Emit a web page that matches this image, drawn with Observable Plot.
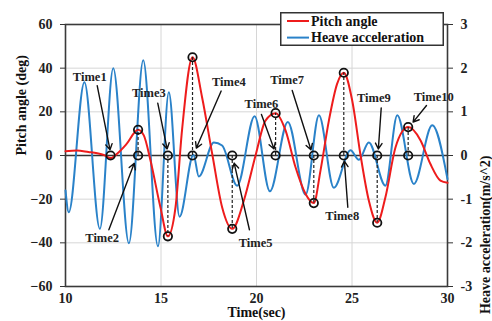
<!DOCTYPE html>
<html><head><meta charset="utf-8">
<script src="https://cdn.jsdelivr.net/npm/d3@7"></script>
<script src="https://cdn.jsdelivr.net/npm/@observablehq/plot@0.6"></script>
<style>
body{margin:0;background:#fff}
#wrap{position:relative;width:492px;height:321px;overflow:hidden}
#legend{position:absolute;left:280px;top:12px}
</style>
</head><body>
<div id="wrap"></div>
<script>
// Pitch angle (deg)
const pitchT = [10.0,10.6,11.2,11.66,12.0,12.36,12.7,13.2,13.8,14.1,14.45,14.97,15.36,15.76,16.1,16.65,17.15,17.68,18.2,18.73,19.34,19.95,20.47,21.0,21.52,22.04,22.57,23.0,23.35,23.79,24.22,24.57,25.01,25.45,25.88,26.32,26.75,27.28,27.94,28.59,29.1,29.63,30.0];
const pitchV = [2.0,2.3,1.6,1.0,0.3,-1.2,0.8,5.3,11.8,9.2,-2.3,-23.7,-37,-23.7,11.5,45,26.7,0.8,-23.7,-33.6,-20.6,0,16,19.4,11.5,-5.3,-17.6,-21.8,-6.9,16,32.8,37.9,25.2,0,-20.6,-30.8,-19.1,3.8,13,6.9,-3.8,-11.5,-12.5];
// Heave acceleration (m/s^2)
const heaveT = [10.0,10.17,10.99,11.8,12.5,13.32,14.07,14.84,15.41,15.97,16.7,16.98,17.77,18.2,18.99,19.9,20.7,21.64,22.57,23.27,24.05,24.92,25.36,25.88,26.75,27.37,28.24,29.2,30.0];
const heaveV = [-0.8,-1.3,1.68,-1.68,2.0,-2.01,2.18,-2.08,1.45,-1.4,0.02,-0.48,0.3,0.23,-0.69,0.9,-0.82,0.77,-0.9,0.92,-0.74,0.12,-0.1,0.3,-0.69,0.92,-0.65,0.69,-0.54];
// Events
const eventLabels = ["Time1","Time2","Time3","Time4","Time5","Time6","Time7","Time8","Time9","Time10"];
const eventT = [12.36,13.8,15.36,16.65,18.73,21.0,23.0,24.57,26.32,27.94];
const eventPitch = [null,11.8,-37,45,-33.6,19.4,-21.8,37.9,-30.8,13.0];
// Annotation anchors (data units)
const labelT = [11.27,11.92,14.36,18.55,19.95,20.26,21.6,24.49,26.14,29.28];
const labelP = [35.9,-37.7,28.7,33.6,-40.2,23.7,34.4,-27.5,26.4,27];
const arrowFromT = [11.66,12.27,14.83,18.15,19.63,20.26,21.87,24.78,26.53,28.9];
const arrowFromP = [32,-34,24,29.5,-34,18.8,29.8,-23.7,21.8,22.9];
const arrowToT = [12.33,13.6,15.32,16.85,18.83,20.92,22.85,24.6,26.38,28.2];
const arrowToP = [2.6,-3.6,3,3.4,-3.5,3,2.6,-2.6,3,15.3];

const xTicks = [10,15,20,25,30];
const yTicks = [-60,-40,-20,0,20,40,60];
const heaveTicks = [-3,-2,-1,0,1,2,3];
const ratio = 20; // deg per m/s^2 between the two axes

const pitch = pitchT.map((t,i)=>({t, v: pitchV[i]}));
const heave = heaveT.map((t,i)=>({t, v: heaveV[i]*ratio}));
const events = eventT.map((t,i)=>({t, p: eventPitch[i], label: eventLabels[i],
  lt: labelT[i], lp: labelP[i], x1: arrowFromT[i], y1: arrowFromP[i], x2: arrowToT[i], y2: arrowToP[i]}));
const peaks = events.filter(d=>d.p!==null);

const RED = "#ee1c1c", BLUE = "#2a82c9", FONT = "Liberation Serif";

const chart = Plot.plot({
  width: 492, height: 321,
  marginLeft: 65, marginRight: 45, marginTop: 24, marginBottom: 35,
  x: {domain: [10,30]},
  y: {domain: [-60,60]},
  style: {fontFamily: FONT, fontWeight: "bold", fontSize: "14px", color: "#222", background: "white"},
  marks: [
    Plot.gridY(yTicks.filter(d=>Math.abs(d)!==60 && d!==0), {stroke:"#d6d6d6", strokeOpacity:1, strokeWidth:1}),
    Plot.gridX([15,20,25], {stroke:"#d6d6d6", strokeOpacity:1, strokeWidth:1}),
    Plot.ruleY([0], {stroke:"#333", strokeWidth:1.5}),
    Plot.frame({stroke:"#3a3a3a", strokeWidth:1.6}),
    Plot.axisY(yTicks, {anchor:"left", tickSize:5, tickPadding:8, label:null, stroke:"#333"}),
    Plot.axisY(heaveTicks.map(v=>v*ratio), {anchor:"right", tickSize:5, tickPadding:8, label:null, tickFormat: d => String(d/ratio), stroke:"#333"}),
    Plot.axisX(xTicks, {anchor:"bottom", tickSize:0, tickPadding:7, label:null}),
    Plot.line(heave, {x:"t", y:"v", stroke:BLUE, strokeWidth:2, curve:"monotone-x"}),
    Plot.line(pitch, {x:"t", y:"v", stroke:RED, strokeWidth:2, curve:"monotone-x"}),
    Plot.ruleX(peaks, {x:"t", y1:0, y2:"p", stroke:"#222", strokeWidth:1.2, strokeDasharray:"3,2"}),
    Plot.dot(events, {x:"t", y:0, r:4.2, stroke:"#111", strokeWidth:1.8, fill:"none"}),
    Plot.dot(peaks, {x:"t", y:"p", r:4.2, stroke:"#111", strokeWidth:1.8, fill:"none"}),
    Plot.arrow(events, {x1:"x1", y1:"y1", x2:"x2", y2:"y2", stroke:"#111", strokeWidth:1.4, headLength:7}),
    Plot.text(events, {x:"lt", y:"lp", text:"label", fontSize:12.5, fontWeight:"bold", fill:"#222"}),
    Plot.text(["Pitch angle (deg)"], {frameAnchor:"left", dx:-44, rotate:-90, fontSize:14, fontWeight:"bold", fill:"#111"}),
    Plot.text(["Heave acceleration(m/s^2)"], {frameAnchor:"right", dx:38, rotate:-90, fontSize:14, fontWeight:"bold", fill:"#111"}),
    Plot.text(["Time(sec)"], {frameAnchor:"bottom", dy:30.5, fontSize:14, fontWeight:"bold", fill:"#111"})
  ]
});
const wrap = document.getElementById("wrap");
wrap.appendChild(chart);

// Legend overlay
const legendItems = [{name:"Pitch angle", color:RED},{name:"Heave acceleration", color:BLUE}];
const lg = d3.select(wrap).append("svg").attr("id","legend").attr("width",165).attr("height",35);
lg.append("rect").attr("x",0.75).attr("y",0.75).attr("width",162.5).attr("height",32.5).attr("fill","white").attr("stroke","#333").attr("stroke-width",1.5);
legendItems.forEach((d,i)=>{
  const cy = 9 + i*16.6;
  lg.append("line").attr("x1",7).attr("x2",29).attr("y1",cy).attr("y2",cy).attr("stroke",d.color).attr("stroke-width",2);
  lg.append("text").attr("x",31).attr("y",cy+4.5).attr("font-family",FONT).attr("font-weight","bold").attr("font-size",14).attr("fill","#111").text(d.name);
});
</script>
</body></html>
